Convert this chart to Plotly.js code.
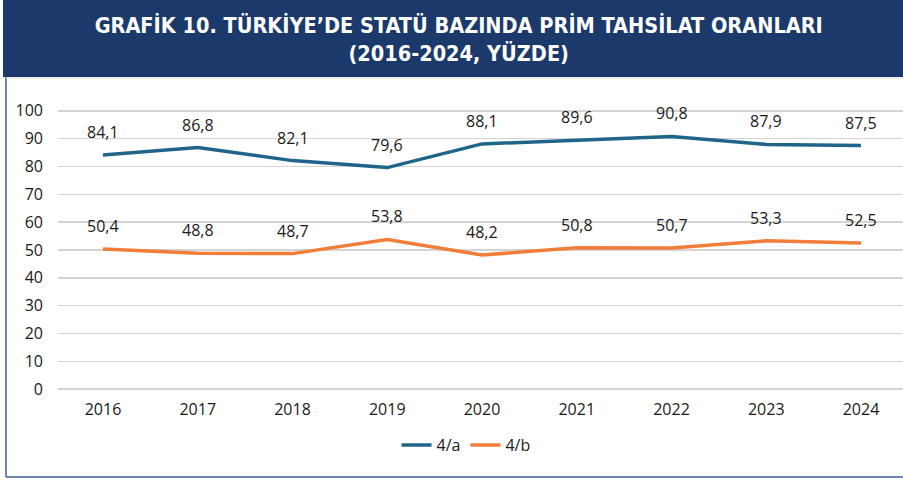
<!DOCTYPE html>
<html>
<head>
<meta charset="utf-8">
<script src="https://cdn.plot.ly/plotly-3.0.1.min.js"></script>
<style>
html,body{margin:0;padding:0;background:#fff;}
#chart{width:903px;height:480px;}
</style>
</head>
<body>
<div id="chart"></div>
<script>
const years = ["2016","2017","2018","2019","2020","2021","2022","2023","2024"];
const seriesA = [84.1, 86.8, 82.1, 79.6, 88.1, 89.6, 90.8, 87.9, 87.5];
const seriesB = [50.4, 48.8, 48.7, 53.8, 48.2, 50.8, 50.7, 53.3, 52.5];
const nameA = "4/a";
const nameB = "4/b";
const yTicks = [0,10,20,30,40,50,60,70,80,90,100];
const titleText = "GRAFİK 10. TÜRKİYE’DE STATÜ BAZINDA PRİM TAHSİLAT ORANLARI<br>(2016-2024, YÜZDE)";

const colA = "#1f6589";
const colB = "#f07d3a";
const txtFont = "Open Sans, Noto Sans, sans-serif";

const fmt = v => v.toFixed(1).replace(".", ",");

const traces = [
  {x: years, y: seriesA, name: nameA, type: "scatter", mode: "lines",
   line: {color: colA, width: 3.5}, hoverinfo: "skip"},
  {x: years, y: seriesB, name: nameB, type: "scatter", mode: "lines",
   line: {color: colB, width: 3.5}, hoverinfo: "skip"}
];

const annotations = [];
[seriesA, seriesB].forEach(s => {
  s.forEach((v, i) => {
    annotations.push({x: i, y: v, xref: "x", yref: "y", text: fmt(v),
      showarrow: false, yshift: 23, font: {family: txtFont, size: 16, color: "#1a1a1a"}});
  });
});

// paper coords: plot x from 58 to 903 (845 px), y from 392 (0) to 108 (1): 284 px
const px2x = p => (p - 58) / 845;
const py2y = p => (392 - p) / 284;

const shapes = [
  {type: "rect", xref: "paper", yref: "paper", x0: px2x(3), x1: px2x(905), y0: py2y(77), y1: py2y(-2),
   fillcolor: "#1b3a6b", line: {width: 0}, layer: "below"},
  {type: "line", xref: "paper", yref: "paper", x0: px2x(6), x1: px2x(6), y0: py2y(77), y1: py2y(477),
   line: {color: "#3c5f99", width: 1.5}},
  {type: "line", xref: "paper", yref: "paper", x0: px2x(6), x1: px2x(905), y0: py2y(477), y1: py2y(477),
   line: {color: "#3c5f99", width: 1.5}},
  {type: "line", xref: "paper", yref: "paper", x0: px2x(6), x1: px2x(905), y0: py2y(78), y1: py2y(78),
   line: {color: "#dddddd", width: 1}}
];

const layout = {
  width: 903, height: 480,
  margin: {l: 58, r: 0, t: 108, b: 88, pad: 0},
  paper_bgcolor: "#ffffff", plot_bgcolor: "#ffffff",
  title: {text: titleText, x: 0.508, xref: "container", xanchor: "center", y: 0.932, yref: "container", yanchor: "top",
    font: {family: "DejaVu Sans Condensed, Liberation Sans Narrow, sans-serif", size: 21.5, color: "#ffffff", weight: "bold"}},
  showlegend: true,
  legend: {orientation: "h", x: px2x(466), xanchor: "center", y: py2y(445), yanchor: "middle",
    font: {family: txtFont, size: 16, color: "#1a1a1a"}, bgcolor: "rgba(0,0,0,0)", traceorder: "normal"},
  xaxis: {type: "category", range: [-0.475, 8.443], showgrid: false, zeroline: false, showline: false,
    ticks: "", ticklabelstandoff: 6, tickfont: {family: txtFont, size: 16, color: "#1a1a1a"}, fixedrange: true},
  yaxis: {range: [-1, 101], tickvals: yTicks, ticktext: yTicks.map(String), showgrid: true,
    gridcolor: "#d4d4d4", gridwidth: 1.5, zeroline: false, showline: false, ticks: "",
    ticklabelstandoff: 14, tickfont: {family: txtFont, size: 16, color: "#1a1a1a"}, fixedrange: true},
  annotations: annotations,
  shapes: shapes
};

Plotly.newPlot("chart", traces, layout, {displayModeBar: false, staticPlot: true});
</script>
</body>
</html>
